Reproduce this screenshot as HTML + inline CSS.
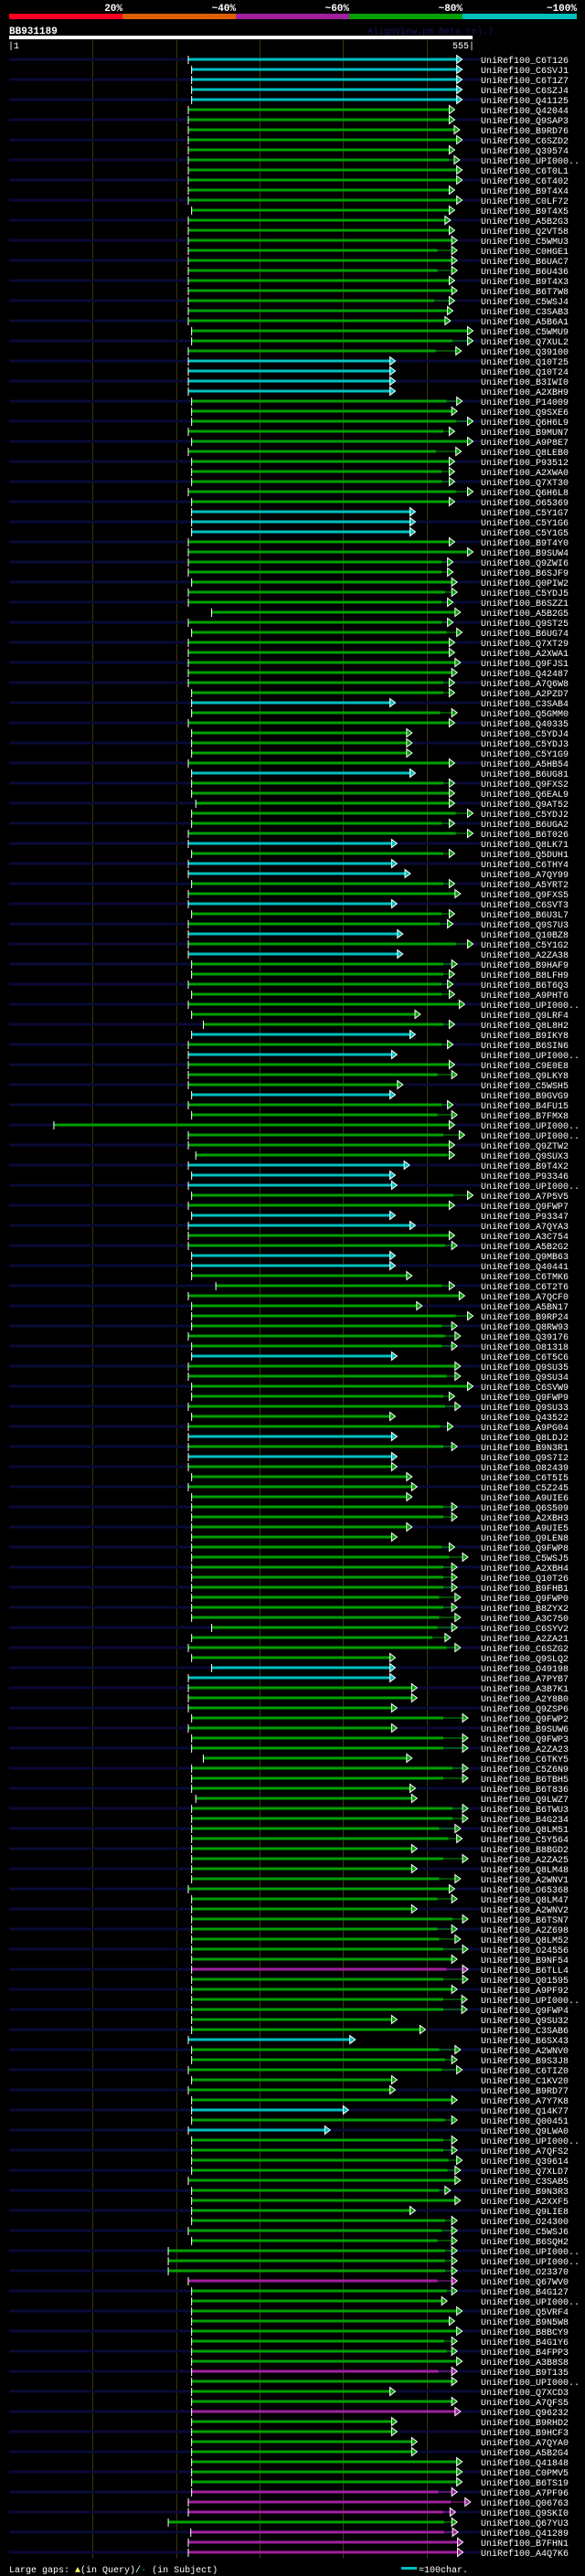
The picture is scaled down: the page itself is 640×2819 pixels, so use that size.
<!DOCTYPE html>
<html><head><meta charset="utf-8"><style>
html,body{margin:0;padding:0;background:#000;}
svg{display:block;}
text{font-family:"Liberation Mono",monospace;}
</style></head><body>
<svg id="chart" xmlns="http://www.w3.org/2000/svg" width="640" height="2819" viewBox="0 0 640 2819">
<rect x="0" y="0" width="640" height="2819" fill="#000"/>
<g>
<rect x="10" y="15" width="124" height="6" fill="#ff0020"/>
<rect x="134" y="15" width="124" height="6" fill="#e06000"/>
<rect x="258" y="15" width="124" height="6" fill="#a020a0"/>
<rect x="382" y="15" width="124" height="6" fill="#00a000"/>
<rect x="506" y="15" width="125" height="6" fill="#00c0c0"/>
<g fill="#fff" font-weight="bold" font-size="11" text-anchor="end">
<text x="134" y="12">20%</text>
<text x="258" y="12">~40%</text>
<text x="382" y="12">~60%</text>
<text x="506" y="12">~80%</text>
<text x="631" y="12">~100%</text>
</g></g>
<text x="10" y="37" fill="#fff" font-weight="bold" font-size="11">BB931189</text>
<text x="402" y="37" fill="#16165a" font-size="10">AlignView.pm Beta rel.7</text>
<rect x="10" y="39" width="507" height="4" fill="#fff"/>
<text x="9" y="53" fill="#fff" font-size="10">|1</text>
<text x="519" y="53" fill="#fff" font-size="10" text-anchor="end">555|</text>
<g id="grid"></g>
<g id="rows"></g>
<g>
<text x="10" y="2815" fill="#fff" font-size="10">Large gaps: <tspan fill="#ffff60">▲</tspan>(in Query)/<tspan fill="#00c0c0">-</tspan> (in Subject)</text>
<rect x="439" y="2809" width="17" height="3" fill="#00c0c0"/>
<text x="458" y="2815" fill="#fff" font-size="10">=100char.</text>
</g>
</svg>
<script>
const QUERY_LEN = 555;
const gridTicks = [100,200,300,400,500];
const names = ["C6T126","C6SVJ1","C6T1Z7","C6SZJ4","Q41125","Q42044","Q9SAP3","B9RD76","C6SZD2","Q39574","UPI000..","C6T0L1","C6T402","B9T4X4","C0LF72","B9T4X5","A5B2G3","Q2VT58","C5WMU3","C0HGE1","B6UAC7","B6U436","B9T4X3","B6T7W8","C5WSJ4",
"C3SAB3","A5B6A1","C5WMU9","Q7XUL2","Q39100","Q10T25","Q10T24","B3IWI0","A2XBH9","P14009","Q9SXE6","Q6H6L9","B9MUN7","A9P8E7","Q8LEB0","P93512","A2XWA0","Q7XT30","Q6H6L8","O65369","C5Y1G7","C5Y1G6","C5Y1G5","B9T4Y0","B9SUW4",
"Q9ZWI6","B6SJF9","Q0PIW2","C5YDJ5","B6SZZ1","A5B2G5","Q9ST25","B6UG74","Q7XT29","A2XWA1","Q9FJS1","Q42487","A7Q6W8","A2PZD7","C3SAB4","Q5GMM0","Q40335","C5YDJ4","C5YDJ3","C5Y1G9","A5HB54","B6UG81","Q9FXS2","Q6EAL9","Q9AT52",
"C5YDJ2","B6UGA2","B6T026","Q8LK71","Q5DUH1","C6THY4","A7QY99","A5YRT2","Q9FXS5","C6SVT3","B6U3L7","Q9S7U3","Q10BZ8","C5Y1G2","A2ZA38","B9HAF9","B8LFH9","B6T6Q3","A9PHT6","UPI000..","Q9LRF4","Q8L8H2","B9IKY8","B6SIN6","UPI000..",
"C9E0E8","Q9LKY8","C5WSH5","B9GVG9","B4FU15","B7FMX8","UPI000..","UPI000..","Q9ZTW2","Q9SUX3","B9T4X2","P93346","UPI000..","A7P5V5","Q9FWP7","P93347","A7QYA3","A3C754","A5B2G2","Q9MB63","Q40441","C6TMK6","C6T2T6","A7QCF0","A5BN17",
"B9RP24","Q8RW93","Q39176","O81318","C6T5C6","Q9SU35","Q9SU34","C6SVW9","Q9FWP9","Q9SU33","Q43522","A9PG04","Q8LDJ2","B9N3R1","Q9S7I2","O82439","C6T5I5","C5Z245","A9UIE6","Q6S509","A2XBH3","A9UIE5","Q9LEN8","Q9FWP8","C5WSJ5",
"A2XBH4","Q10T26","B9FHB1","Q9FWP0","B8ZYX2","A3C750","C6SYV2","A2ZA21","C6SZG2","Q9SLQ2","O49198","A7PYB7","A3B7K1","A2Y8B0","Q9ZSP6","Q9FWP2","B9SUW6","Q9FWP3","A2ZA23","C6TKY5","C5Z6N9","B6TBH5","B6T836","Q9LWZ7","B6TWU3",
"B4G234","Q8LM51","C5Y564","B8BGD2","A2ZA25","Q8LM48","A2WNV1","O65368","Q8LM47","A2WNV2","B6TSN7","A2Z698","Q8LM52","O24556","B9NF54","B6TLL4","Q01595","A9PF92","UPI000..","Q9FWP4","Q9SU32","C3SAB6","B6SX43","A2WNV0","B9S3J8",
"C6TIZ0","C1KV20","B9RD77","A7Y7K8","Q14K77","Q00451","Q9LWA0","UPI000..","A7QFS2","Q39614","Q7XLD7","C3SAB5","B9N3R3","A2XXF5","Q9LIE8","O24300","C5WSJ6","B6SQH2","UPI000..","UPI000..","O23370","Q67WV0","B4G127","UPI000..",
"Q5VRF4","B9N5W8","B8BCY9","B4G1Y6","B4FPP3","A3B8S8","B9T135","UPI000..","Q7XCD3","A7QFS5","Q96232","B9RHD2","B9HCF3","A7QYA0","A5B2G4","Q41848","C0PMV5","B6TS19","A7PF96","Q06763","Q9SKI0","Q67YU3","Q41289","B7FHN1","A4Q7K6"];
const colorCodes = [
"ccccc",
"ggggg","ggggg","ggggg","ggggg","ggggg",
"cccc",
"ggggg","ggggg","g",
"ccc",
"ggggg","ggggg","ggggg","g",
"c",
"gggggg",
"c",
"gggggg",
"c","g","cc","gg","c","gg","c","g","c",
"ggggggg",
"c","g","c",
"ggg","c",
"gggggg",
"ccc","gg","cc","gg","cc",
"gggggggg",
"c","ggggggg","c","g","c",
"gggggggggg","gggggggggg",
"cc",
"gggggggggg","gggggggggg","gggggggg",
"m","gggggg","c","gggggg","c","g","c",
"gggggggggg","gggg",
"m","gggggggg","m","ggg","m","ggggggg","mmm","g","mmm"
].join('');
const starts = [214,218,218,218,218,214,214,214,214,214,214,214,214,214,214,218,214,214,214,214,214,214,214,214,214,
214,214,218,218,214,214,214,214,214,218,218,218,214,218,214,218,218,218,214,218,218,218,218,214,214,
214,214,218,214,214,242,214,218,214,214,214,214,214,218,218,218,214,218,218,218,214,218,218,218,223,
218,218,214,214,218,214,214,218,214,214,218,214,214,214,214,218,218,214,218,214,218,232,218,214,214,
214,214,214,218,214,218,53,214,214,223,214,218,214,218,214,218,214,214,214,218,218,218,247,214,218,
218,218,214,218,218,214,214,218,218,214,218,214,214,214,214,214,218,214,218,218,218,218,218,218,218,
218,218,218,218,218,218,242,218,214,218,242,214,214,214,214,218,214,218,218,232,218,218,218,223,218,
218,218,218,218,218,218,218,214,218,218,218,218,218,218,218,218,218,218,218,218,218,218,214,218,218,
214,218,214,218,218,218,214,218,218,218,218,214,218,218,218,218,214,218,190,190,190,214,218,218,
218,218,218,218,218,218,218,218,218,218,218,218,218,218,218,218,218,218,218,214,214,190,217,214,214];
const thickEnds = [0,0,0,0,0,0,0,0,0,0,527,0,0,0,0,0,0,0,0,513,0,513,0,0,509,
0,0,0,531,511,0,0,0,0,524,0,535,520,0,511,0,518,518,535,0,0,0,0,0,0,
518,518,0,522,518,0,518,524,0,0,0,0,520,520,0,516,0,0,0,0,0,0,520,0,0,
535,518,535,0,520,0,0,520,0,0,518,516,0,535,0,520,520,518,518,0,0,520,0,518,0,
0,513,0,0,518,513,0,520,0,525,0,0,0,532,0,0,0,0,522,0,0,0,518,0,0,
535,518,522,518,0,0,524,0,520,522,0,516,0,520,0,0,0,0,0,520,520,0,0,518,527,
520,520,520,515,520,515,513,507,524,0,0,0,0,0,0,520,0,520,520,0,531,520,0,0,531,
531,515,526,0,520,0,515,0,513,0,531,513,515,520,0,524,520,0,520,520,0,0,0,515,522,
518,0,0,0,0,522,0,520,520,526,525,0,515,0,0,522,518,513,522,522,522,513,524,0,
0,0,0,521,524,0,514,0,0,0,0,0,0,0,0,0,0,0,514,529,520,521,521,0,0];
const ends = [536,536,536,536,536,527,527,533,536,527,533,536,536,527,536,527,522,527,530,530,530,530,527,530,527,
525,522,549,549,535,456,456,456,456,536,530,549,527,549,535,527,527,527,549,527,480,480,480,527,549,
525,525,530,530,525,534,525,536,527,527,534,530,527,527,456,530,527,476,476,476,527,480,527,527,527,
549,527,549,458,527,458,474,527,534,458,527,525,465,549,465,530,527,525,527,539,486,527,480,525,458,
527,530,465,456,525,530,527,539,527,527,473,456,458,549,527,456,480,527,530,456,456,476,527,539,488,
549,530,534,530,458,534,534,549,527,534,456,525,458,530,458,458,476,482,476,530,530,476,458,527,543,
530,530,530,534,530,534,530,522,534,456,456,456,482,482,458,543,458,543,543,476,543,543,480,482,543,
543,534,536,482,543,482,534,527,530,482,543,530,534,543,530,543,543,530,542,542,458,492,408,534,530,
536,458,456,530,400,530,378,530,530,536,534,534,522,534,480,530,530,530,530,530,530,530,530,518,
536,527,536,530,530,536,530,530,456,530,534,458,458,482,482,536,536,536,530,546,528,530,531,537,537];

const NS = "http://www.w3.org/2000/svg";
const X0 = 10, X1 = 517;
function xScale(r){ return X0 + r * (X1 - X0) / QUERY_LEN; }
function yRow(i){ return 65 + i * 11; }
const palette = {c:"#00c0c0", g:"#00a000", m:"#a020a0"};
function mk(tag, attrs){ const e = document.createElementNS(NS, tag); for (const k in attrs) e.setAttribute(k, attrs[k]); return e; }

const grid = document.getElementById('grid');
gridTicks.forEach(t => {
  const l = mk('rect', {x: Math.round(xScale(t)), y: 44, width: 1, height: 2756, fill: '#38380c'});
  
  
  grid.appendChild(l);
});

const rowsG = document.getElementById('rows');
names.forEach((nm, i) => {
  const c = yRow(i);
  const col = palette[colorCodes[i]] || "#00a000";
  const g = mk('g', {});
  
  
  if (i % 2 === 0) {
    const bg = mk('rect', {x: 10, y: c - 1.5, width: 516, height: 3, fill: '#0a0a36'});
    
    
    g.appendChild(bg);
  }
  const xs = xScale(starts[i]);
  const xe = xScale(ends[i]);
  const xt = thickEnds[i] ? xScale(thickEnds[i]) : xe;
  const bar = mk('rect', {x: xs, y: c - 1.5, width: Math.max(0, xt - xs), height: 3, fill: col});
  
  
  g.appendChild(bar);
  if (thickEnds[i]) {
    const thin = mk('rect', {x: xt, y: c - 0.5, width: Math.max(0, xe - xt), height: 1, fill: col});
    
    
    g.appendChild(thin);
  }
  const tick = mk('rect', {x: xs, y: c - 4, width: 1, height: 9, fill: '#fff'});
  
  
  g.appendChild(tick);
  const arrow = mk('polygon', {points: `${xe},${c-4.5} ${xe+6},${c} ${xe},${c+4.5}`, fill: col, stroke: '#fff', 'stroke-width': 1});
  
  
  g.appendChild(arrow);
  const t = mk('text', {x: 526, y: c + 4, fill: '#fff', 'font-size': 10});
  t.textContent = 'UniRef100_' + nm;
  
  
  g.appendChild(t);
  rowsG.appendChild(g);
});
</script>
</body></html>
